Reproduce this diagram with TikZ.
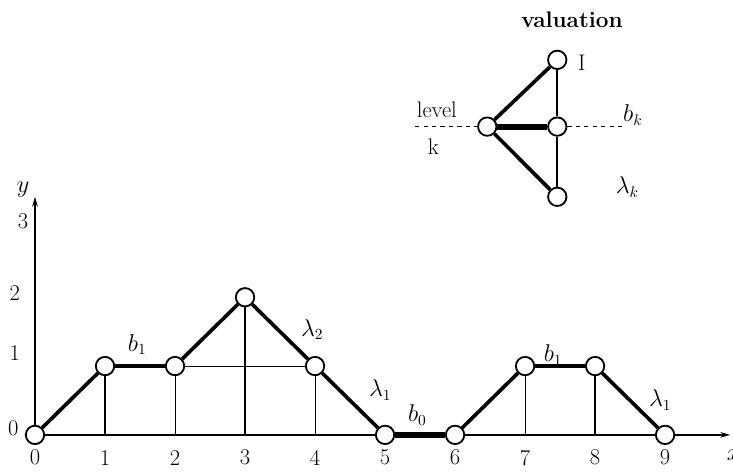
\documentclass[tikz,border=0pt]{standalone}
\usepackage{amsmath}
\usetikzlibrary{arrows.meta, positioning, calc}

\begin{document}
\begin{tikzpicture}[x=1.75cm, y=1.72cm,
  dot/.style={draw, circle, fill=white, line width=1.3pt,
              minimum size=0.46cm, inner sep=0pt},
  lbl/.style={font=\fontsize{16}{18}\selectfont},
  seg/.style={line width=2.6pt},
  fat/.style={line width=4.2pt},
  thin/.style={line width=0.6pt},
  mid/.style={line width=1.2pt},
  axis/.style={line width=0.9pt, -{Stealth[length=7pt, width=4pt]}}
]
  \useasboundingbox (-0.5,-0.58) rectangle (9.97,6.32);

  % axes
  \coordinate (o) at (0,0);
  \coordinate (xend) at (9.93,0);
  \coordinate (yend) at (0,3.46);
  \draw[axis] (o) -- (xend);
  \draw[axis] (o) -- (yend);
  \node[lbl] (xl) at (9.98,-0.3) {$x$};
  \node[lbl] (yl) at (-0.17,3.56) {$y$};
  \node[lbl] (y0) at (-0.31,0.1) {0};
  \node[lbl] (y1) at (-0.29,1.19) {1};
  \node[lbl] (y2) at (-0.29,2.06) {2};
  \node[lbl] (y3) at (-0.17,3.1) {3};
  \foreach \i in {0,...,9}
    \node[lbl] (t\i) at (\i,-0.33) {\i};

  % path of levels
  \node[dot] (p0) at (0,0) {};
  \node[dot] (p1) at (1,1) {};
  \node[dot] (p2) at (2,1) {};
  \node[dot] (p3) at (3,2) {};
  \node[dot] (p4) at (4,1) {};
  \node[dot] (p5) at (5,0) {};
  \node[dot] (p6) at (6,0) {};
  \node[dot] (p7) at (7,1) {};
  \node[dot] (p8) at (8,1) {};
  \node[dot] (p9) at (9,0) {};

  \draw[mid] (p1) -- (p1 |- o);
  \draw[thin] (p2) -- (p2 |- o);
  \draw[mid] (p3) -- (p3 |- o);
  \draw[thin] (p4) -- (p4 |- o);
  \draw[thin] (p7) -- (p7 |- o);
  \draw[mid] (p8) -- (p8 |- o);
  \draw[thin] (p2) -- (p4);

  \draw[seg] (p0) -- (p1);
  \draw[seg] (p1) -- (p2);
  \draw[seg] (p2) -- (p3);
  \draw[seg] (p3) -- (p4);
  \draw[seg] (p4) -- (p5);
  \draw[fat] (p5) -- (p6);
  \draw[seg] (p6) -- (p7);
  \draw[seg] (p7) -- (p8);
  \draw[seg] (p8) -- (p9);

  \node[lbl] (b1a) at (1.46,1.31) {$b_1$};
  \node[lbl] (l2) at (3.96,1.53) {$\lambda_2$};
  \node[lbl] (l1a) at (4.93,0.65) {$\lambda_1$};
  \node[lbl] (b0) at (5.46,0.29) {$b_0$};
  \node[lbl] (b1b) at (7.4,1.16) {$b_1$};
  \node[lbl] (l1b) at (8.93,0.51) {$\lambda_1$};

  % legend
  \node[lbl, font=\fontsize{16}{18}\selectfont\bfseries] (val) at (7.67,6.03) {valuation};
  \node[dot] (lv) at (6.46,4.48) {};
  \node[dot] (lt) at (7.46,5.45) {};
  \node[dot] (lm) at (7.46,4.48) {};
  \node[dot] (lb) at (7.46,3.46) {};
  \coordinate (dl) at (5.43,4.48);
  \coordinate (dr) at (8.39,4.48);
  \draw[thin, dashed] (dl) -- (lv);
  \draw[thin, dashed] (lm) -- (dr);
  \draw[mid] (lt) -- (lm);
  \draw[mid] (lm) -- (lb);
  \draw[seg] (lv) -- (lt);
  \draw[fat] (lv) -- (lm);
  \draw[seg] (lv) -- (lb);
  \node[lbl] (li) at (7.81,5.41) {I};
  \node[lbl] (lvl) at (5.74,4.72) {level};
  \node[lbl] (lk) at (5.69,4.19) {k};
  \node[lbl] (bk) at (8.54,4.65) {$b_k$};
  \node[lbl] (lk2) at (8.46,3.6) {$\lambda_k$};
\end{tikzpicture}
\end{document}
